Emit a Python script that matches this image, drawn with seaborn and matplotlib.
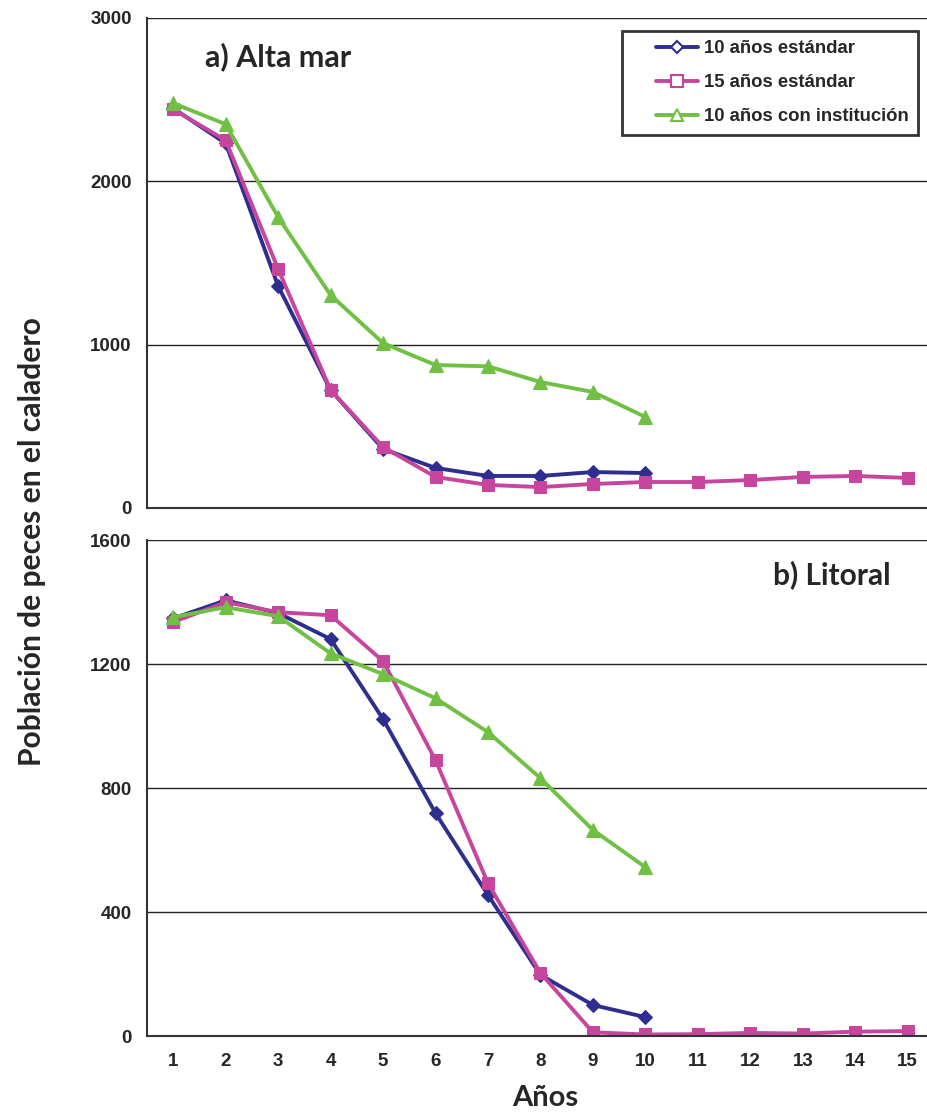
import numpy as np
import pandas as pd
import matplotlib.pyplot as plt
import seaborn as sns
from matplotlib.lines import Line2D
from matplotlib.legend_handler import HandlerLine2D

# Datos (población de peces por año)
anios = list(range(1, 16))

# a) Alta mar
alta_10_std = [2446, 2232, 1358, 722, 361, 245, 196, 196, 220, 214]
alta_15_std = [2440, 2250, 1462, 722, 373, 190, 141, 128, 147, 159, 159, 171, 190, 196, 184]
alta_10_inst = [2477, 2349, 1780, 1303, 1009, 875, 867, 771, 710, 557]

# b) Litoral
lit_10_std = [1348, 1406, 1365, 1281, 1023, 719, 455, 197, 100, 61]
lit_15_std = [1336, 1400, 1368, 1358, 1210, 890, 493, 203, 12, 5, 6, 10, 8, 14, 16]
lit_10_inst = [1352, 1384, 1355, 1235, 1168, 1090, 981, 832, 665, 545]

series_names = ['10 años estándar', '15 años estándar', '10 años con institución']
colores = ['#2d2e8f', '#c8459e', '#6fc043']
marcadores = ['D', 's', '^']
tam_marc = [7.5, 9, 9.5]


# Handler que deja un margen a la izquierda del símbolo de la leyenda
class HandlerDesplazado(HandlerLine2D):
    def __init__(self, shift=18, **kw):
        super().__init__(**kw)
        self.shift = shift

    def create_artists(self, legend, orig_handle, xdescent, ydescent, width, height, fontsize, trans):
        return super().create_artists(legend, orig_handle, xdescent - self.shift, ydescent,
                                      width - self.shift, height, fontsize, trans)


sns.set_style('white')
plt.rcParams['font.family'] = ['Liberation Sans', 'DejaVu Sans']

fig = plt.figure(figsize=(9.28, 11.14), dpi=100)
ax1 = fig.add_axes([0.1584, 0.544, 0.848, 0.44])
ax2 = fig.add_axes([0.1584, 0.070, 0.848, 0.445])


def dibujar(ax, datos, ymax, paso):
    for vals, nombre, c, m, ms in zip(datos, series_names, colores, marcadores, tam_marc):
        df = pd.DataFrame({'anio': anios[:len(vals)], 'pob': vals})
        sns.lineplot(data=df, x='anio', y='pob', ax=ax, color=c, marker=m,
                     markersize=ms, markeredgecolor=c, linewidth=2.8, label=nombre,
                     legend=False)
    ax.set_xlim(0.5, 15.5)
    ax.set_ylim(0, ymax)
    ax.set_yticks(np.arange(0, ymax + 1, paso))
    ax.set_xticks(anios)
    ax.set_xticks(np.arange(0.5, 16, 1), minor=True)
    ax.tick_params(axis='x', which='major', length=0, pad=12, labelsize=13.5)
    ax.tick_params(axis='x', which='minor', length=5, width=1.2, color='#333333', direction='out')
    ax.tick_params(axis='y', length=5, width=1.2, color='#333333', direction='out',
                   pad=6, labelsize=13.5)
    for lab in ax.get_xticklabels() + ax.get_yticklabels():
        lab.set_fontweight('bold')
    ax.grid(axis='y', color='#222222', linewidth=1.0)
    ax.grid(axis='x', visible=False)
    ax.spines['top'].set_visible(False)
    ax.spines['right'].set_visible(False)
    for s in ['left', 'bottom']:
        ax.spines[s].set_color('#333333')
        ax.spines[s].set_linewidth(1.5)
    ax.set_xlabel('')
    ax.set_ylabel('')


dibujar(ax1, [alta_10_std, alta_15_std, alta_10_inst], 3000, 1000)
dibujar(ax2, [lit_10_std, lit_15_std, lit_10_inst], 1600, 400)
ax1.set_xticklabels([])

ax1.text(0.074, 0.92, 'a) Alta mar', transform=ax1.transAxes, fontsize=22,
         fontweight='bold', family=['Lato', 'DejaVu Sans'], va='center', ha='left')
ax2.text(0.795, 0.93, 'b) Litoral', transform=ax2.transAxes, fontsize=21.5,
         fontweight='bold', family=['Lato', 'DejaVu Sans'], va='center', ha='left')

# leyenda con marcadores huecos
handles = [Line2D([0], [0], color=c, marker=m, markersize=ms - 1, markerfacecolor='white',
                  markeredgecolor=c, markeredgewidth=1.5, linewidth=2.8)
           for c, m, ms in zip(colores, marcadores, tam_marc)]
leg = ax1.legend(handles, series_names, loc='upper right', bbox_to_anchor=(0.9797, 0.973),
                 borderaxespad=0, frameon=True, fancybox=False, edgecolor='black',
                 handlelength=3.6, handletextpad=0.35, labelspacing=0.92, borderpad=0.5,
                 handler_map={Line2D: HandlerDesplazado(shift=18)},
                 prop={'weight': 'bold', 'size': 13.3})
leg.get_frame().set_linewidth(2)

fig.text(0.034, 0.514, 'Población de peces en el caladero', rotation=90, fontsize=21.6,
         fontweight='bold', family=['Lato', 'DejaVu Sans'], ha='center', va='center')
fig.text(0.588, 0.0144, 'Años', fontsize=21, fontweight='bold',
         family=['Lato', 'DejaVu Sans'], ha='center', va='center')

fig.savefig('out.png', dpi=100)
